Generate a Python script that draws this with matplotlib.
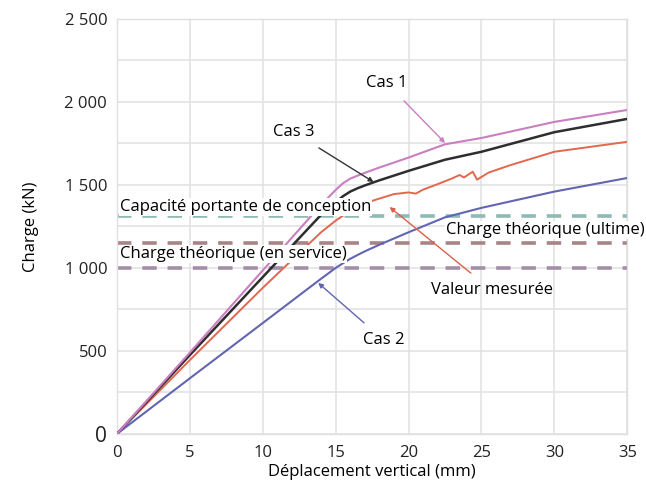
import matplotlib
matplotlib.use("Agg")
import matplotlib.pyplot as plt
from matplotlib.ticker import FixedLocator, MultipleLocator

plt.rcParams['font.family'] = ['Open Sans', 'DejaVu Sans']

# displacement (mm) / load (kN)
x_cas = [0, 5, 10, 14, 15, 15.5, 16, 16.5, 17, 18, 20, 22.5, 25, 30, 35]
cas1 = [0, 490, 985, 1380, 1470, 1510, 1538, 1556, 1573, 1605, 1665, 1745,
        1783, 1880, 1952]
cas3 = [0, 475, 945, 1320, 1395, 1432, 1460, 1480, 1497, 1528, 1585, 1652,
        1700, 1818, 1898]
cas2 = [0, 335, 668, 935, 1000, 1028, 1055, 1078, 1100, 1140, 1215, 1305,
        1362, 1460, 1542]

x_mes = [0, 5, 10, 14, 15, 16, 17, 18, 19, 20, 20.5, 21, 22, 23, 23.5, 23.8,
         24.4, 24.7, 25.5, 27, 30, 35]
mesure = [0, 445, 880, 1215, 1285, 1345, 1390, 1418, 1445, 1455, 1448, 1472,
          1505, 1540, 1560, 1545, 1580, 1532, 1575, 1620, 1700, 1760]

ref_levels = [1310, 1150, 1000]
ref_colors = ['#8dbab5', '#a88486', '#a58daa']

y_ticks = [0, 500, 1000, 1500, 2000, 2500]
y_tick_labels = ['0', '500', '1 000', '1 500', '2 000', '2 500']
x_ticks = [0, 5, 10, 15, 20, 25, 30, 35]

fig = plt.figure(figsize=(6.46, 4.87), dpi=100)
ax = fig.add_axes([0.181, 0.109, 0.79, 0.852])

# grid
ax.set_xlim(0, 35)
ax.set_ylim(0, 2500)
ax.xaxis.set_major_locator(FixedLocator(x_ticks))
ax.yaxis.set_major_locator(FixedLocator(y_ticks))
ax.yaxis.set_minor_locator(MultipleLocator(250))
ax.grid(True, which='both', color='#e3e3e3', lw=1.2)
ax.set_axisbelow(True)
for s in ax.spines.values():
    s.set_color('#e0e0e0')
    s.set_linewidth(1.0)
ax.tick_params(which='both', length=0, labelsize=12, colors='#222222')
ax.tick_params(axis='x', pad=8)
ax.tick_params(axis='y', pad=7)
ax.set_yticklabels(y_tick_labels)
ax.get_yticklabels()[0].set_fontsize(15)

# reference levels
for lvl, col in zip(ref_levels, ref_colors):
    ax.axhline(lvl, color=col, lw=2.6, dashes=(4, 3), zorder=2)

# curves
ax.plot(x_cas, cas2, color='#6266b0', lw=1.5, zorder=3)
ax.plot(x_mes, mesure, color='#e2674f', lw=1.4, zorder=3)
ax.plot(x_cas, cas3, color='#2e2e2e', lw=1.8, zorder=3)
ax.plot(x_cas, cas1, color='#c97fc0', lw=1.5, zorder=3)

# labels of reference levels
box = dict(facecolor='white', edgecolor='none', pad=0.6)
ax.text(0.2, 1368, 'Capacité portante de conception', fontsize=12,
        va='center', ha='left', bbox=box, zorder=5)
ax.text(0.2, 1085, 'Charge théorique (en service)', fontsize=12,
        va='center', ha='left', bbox=box, zorder=5)
ax.text(36.2, 1230, 'Charge théorique (ultime)', fontsize=12,
        va='center', ha='right', bbox=box, zorder=5, clip_on=False)

# curve callouts
def callout(txt, tip, tail, col):
    ax.annotate(txt, xy=tip, xytext=tail, fontsize=12, ha='center',
                va='center', zorder=6,
                arrowprops=dict(arrowstyle='-|>', color=col, lw=1.0,
                                mutation_scale=7, shrinkA=7, shrinkB=0))

callout('Cas 1', (22.5, 1753), (18.5, 2114), '#c97fc0')
callout('Cas 3', (17.6, 1518), (12.1, 1819), '#333333')
callout('Valeur mesurée', (18.7, 1367), (25.7, 867), '#d9604c')
callout('Cas 2', (13.8, 910), (18.3, 566), '#6266b0')

ax.set_xlabel('Déplacement vertical (mm)', fontsize=12, labelpad=2)
ax.set_ylabel('Charge (kN)', fontsize=12, labelpad=18)

fig.savefig('out.png', dpi=100)
